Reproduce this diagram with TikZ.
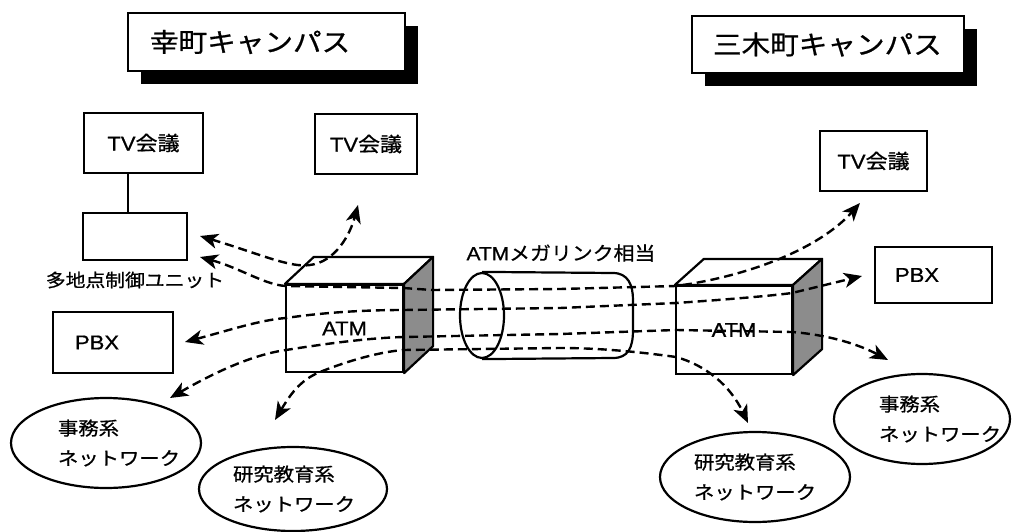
\documentclass[tikz,border=0pt]{standalone}
\usepackage{fontspec}
\setmainfont{Liberation Sans}[FakeStretch=1.1,FakeBold=0.8]
\newfontfamily\jp{Noto Sans CJK JP}[FakeStretch=1.1,FakeBold=0.8]
\usetikzlibrary{arrows.meta,shadows,shapes.geometric}
\begin{document}
\begin{tikzpicture}[x=1pt,y=-1pt,
  box/.style={draw, line width=2.2pt, fill=white, inner sep=0pt, font=\fontsize{20}{24}\selectfont},
  titlebox/.style={draw, line width=2.2pt, fill=white, inner sep=0pt,
     drop shadow={shadow xshift=13pt, shadow yshift=-13pt, fill=black, opacity=1},
     font=\jp\fontsize{26}{30}\selectfont, align=left},
  net/.style={ellipse, draw, line width=2.2pt, inner sep=0pt, align=left, font=\jp\fontsize{18.5}{30}\selectfont},
  face/.style={draw, line width=2.2pt, line join=round},
  dl/.style={line width=2.4pt, dash pattern=on 9pt off 5pt, >={Stealth[length=18pt,width=15pt,inset=5pt]}},
]
\useasboundingbox (0,0) rectangle (1012,532);

% titles
\node[titlebox, minimum width=277pt, minimum height=58pt, text width=233pt] (titleL) at (266.5,42) {幸町キャンパス};
\node[titlebox, minimum width=272pt, minimum height=57pt, text width=230pt] (titleR) at (828,44.5) {三木町キャンパス};

% left campus devices
\node[box, minimum width=119pt, minimum height=60pt] (tvL) at (143.5,143) {TV{\jp 会議}};
\node[box, minimum width=104pt, minimum height=47pt] (mcu) at (135,236.5) {};
\node[inner sep=0pt, font=\jp\fontsize{18}{20}\selectfont] (mculab) at (135,280) {多地点制御ユニット};
\draw[line width=1.8pt] ([xshift=-15.5pt]tvL.south) -- ([xshift=-15.5pt]tvL.south |- mcu.north);
\node[box, minimum width=102pt, minimum height=60pt] (tvM) at (366,144) {TV{\jp 会議}};
\node[box, minimum width=120pt, minimum height=61pt, text width=76pt, align=left] (pbxL) at (113,342.5) {PBX};
\node[net, minimum width=190pt, minimum height=90pt, text width=96pt] (jimuL) at (106,443) {事務系\\ネットワーク};
\node[net, minimum width=188pt, minimum height=84pt, text width=120pt] (kenL) at (293,489) {研究教育系\\ネットワーク};

% right campus devices
\node[box, minimum width=107pt, minimum height=60pt] (tvR) at (873.5,161) {TV{\jp 会議}};
\node[box, minimum width=117pt, minimum height=56pt, text width=77pt, align=left] (pbxR) at (933.5,275) {PBX};
\node[net, minimum width=176pt, minimum height=90pt, text width=86pt] (jimuR) at (922,419) {事務系\\ネットワーク};
\node[net, minimum width=190pt, minimum height=90pt, text width=122pt] (kenR) at (755,477) {研究教育系\\ネットワーク};

% cylinder
\node[draw, ellipse, line width=2.2pt, minimum width=44pt, minimum height=85pt, inner sep=0pt] (cylL) at (482,315.5) {};
\draw[line width=2.2pt] (cylL.north) -- (613,273) .. controls (628,273) and (633,285) .. (633,300)
   -- (633,330) .. controls (633,348) and (628,358) .. (613,358) -- (cylL.south);
\node[inner sep=0pt, font=\fontsize{19}{22}\selectfont] (cyllab) at (561,253) {ATM{\jp メガリンク相当}};

% cubes
\node[box, minimum width=117pt, minimum height=87pt] (atmL) at (344.5,328.5) {ATM};
\draw[face, fill=white] (atmL.north west) -- ++(29,-27) -- ([shift={(29,-27)}]atmL.north east) -- (atmL.north east) -- cycle;
\draw[face, fill=black!45] (atmL.north east) -- ++(29,-27) -- ([shift={(29,-27)}]atmL.south east) -- (atmL.south east) -- cycle;
\node[box, minimum width=116pt, minimum height=88pt] (atmR) at (734,330) {ATM};
\draw[face, fill=white] (atmR.north west) -- ++(29,-26) -- ([shift={(29,-26)}]atmR.north east) -- (atmR.north east) -- cycle;
\draw[face, fill=black!45] (atmR.north east) -- ++(29,-26) -- ([shift={(29,-26)}]atmR.south east) -- (atmR.south east) -- cycle;

% arrow end points
\coordinate (tA1) at (200,257);
\coordinate (tA2) at (860,203);
\coordinate (tB1) at (185,342);
\coordinate (tB2) at (862,276);
\coordinate (tC1) at (170,398);
\coordinate (tC2) at (888,360);
\coordinate (tD1) at (275,420);
\coordinate (tD2) at (748,423);
\coordinate (tE1) at (200,236);
\coordinate (tE2) at (358,205);

% dashed paths
\draw[dl,<->] (tA1) .. controls (240,268) and (265,285) .. (286,286) -- (403,288) -- (432,290) -- (560,289) -- (676,286)
   .. controls (750,276) and (820,248) .. (tA2);
\draw[dl,<->] (tB1) .. controls (230,330) and (260,320) .. (286,318) .. controls (320,313) and (360,310) .. (403,310)
   -- (560,308) -- (676,303) .. controls (720,300) and (770,296) .. (792,293) -- (tB2);
\draw[dl,<->] (tC1) .. controls (210,375) and (250,355) .. (286,350) .. controls (330,343) and (370,338) .. (403,337)
   -- (560,334) -- (676,330) -- (792,332) .. controls (830,335) and (860,345) .. (tC2);
\draw[dl,<->] (tD1) .. controls (290,395) and (300,380) .. (320,372) .. controls (350,360) and (380,352) .. (403,350)
   -- (560,348) .. controls (600,348) and (640,352) .. (676,357) .. controls (705,365) and (730,385) .. (tD2);
\draw[dl,<->] (tE1) .. controls (260,254) and (290,268) .. (310,265) .. controls (335,262) and (350,235) .. (tE2);
\end{tikzpicture}
\end{document}
